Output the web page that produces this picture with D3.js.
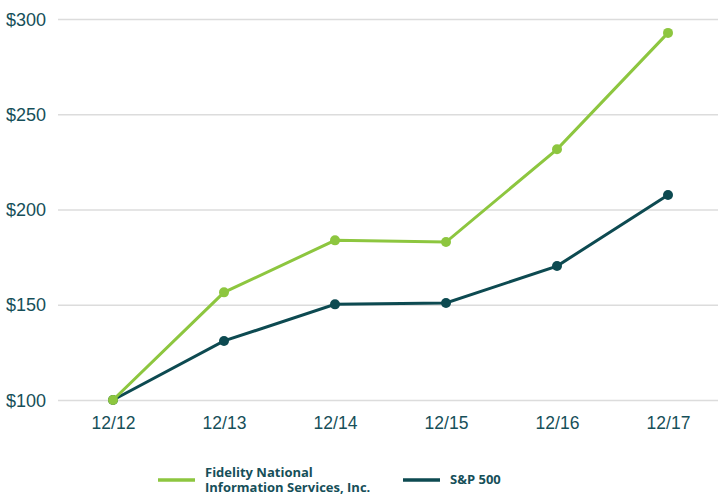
<!DOCTYPE html>
<html>
<head>
<meta charset="utf-8">
<script src="https://cdn.jsdelivr.net/npm/d3@7"></script>
<style>
  body { margin: 0; background: #fff; }
  svg { display: block; }
</style>
</head>
<body>
<svg></svg>
<script>
var width = 726,
    height = 499

// data
var years = ["12/12", "12/13", "12/14", "12/15", "12/16", "12/17"]
var fis = [100, 156.5, 183.8, 182.9, 231.6, 292.7]
var sp500 = [100, 131, 150.2, 150.9, 170.3, 207.6]
var yTicks = [100, 150, 200, 250, 300]
var seriesNames = ["Fidelity National|Information Services, Inc.", "S&P 500"]

var green = "#8dc63f",
    teal = "#0d4a51",
    textColor = "#164f59"

var svg = d3.select("svg").attr("width", width).attr("height", height);

var x = d3.scalePoint()
  .domain(years)
  .range([113, 668])

var y = d3.scaleLinear()
  .domain([100, 300])
  .range([400, 19])

// gridlines
svg.append("g")
  .attr("transform", "translate(58,0)")
  .call(d3.axisLeft(y).tickValues(yTicks).tickSize(-660).tickFormat(""))
  .call(function(g) {
    g.select(".domain").remove()
    g.selectAll(".tick line").attr("stroke", "#dcdcdc").attr("stroke-width", 1.5)
  })

// y labels
svg.append("g")
  .attr("transform", "translate(46,0)")
  .call(d3.axisLeft(y).tickValues(yTicks).tickSize(0).tickPadding(0).tickFormat(function(d) { return "$" + d }))
  .call(function(g) {
    g.select(".domain").remove()
    g.selectAll("text")
      .attr("text-anchor", "end")
      .attr("dy", "0.34em")
      .attr("fill", textColor)
      .style("font-family", "Liberation Sans, Arial, sans-serif")
      .style("font-size", "18px")
  })

// x labels
svg.append("g")
  .attr("transform", "translate(0,417)")
  .call(d3.axisBottom(x).tickSize(0).tickPadding(0))
  .call(function(g) {
    g.select(".domain").remove()
    g.selectAll("text")
      .attr("dy", "0.71em")
      .attr("fill", textColor)
      .style("font-family", "Liberation Sans, Arial, sans-serif")
      .style("font-size", "17.5px")
  })

var line = d3.line()
  .x(function(d, i) { return x(years[i]) })
  .y(function(d) { return y(d) })

var series = [
  {values: sp500, color: teal},
  {values: fis, color: green}
]

series.forEach(function(s) {
  svg.append("path")
    .datum(s.values)
    .attr("d", line)
    .attr("fill", "none")
    .attr("stroke", s.color)
    .attr("stroke-width", 3)

  svg.selectAll(null)
    .data(s.values)
    .enter().append("circle")
    .attr("cx", function(d, i) { return x(years[i]) })
    .attr("cy", function(d) { return y(d) })
    .attr("r", 5)
    .attr("fill", s.color)
})

// legend
var legend = [
  {name: seriesNames[0], color: green, x: 158},
  {name: seriesNames[1], color: teal, x: 403}
]

legend.forEach(function(l) {
  svg.append("line")
    .attr("x1", l.x).attr("x2", l.x + 37)
    .attr("y1", 480).attr("y2", 480)
    .attr("stroke", l.color)
    .attr("stroke-width", 3.5)

  var parts = l.name.split("|")
  var t = svg.append("text")
    .attr("x", l.x + 47)
    .attr("y", parts.length > 1 ? 476.5 : 484)
    .attr("fill", textColor)
    .style("font-family", "Open Sans, sans-serif")
    .style("font-weight", "bold")
    .style("font-size", "13px")
  parts.forEach(function(p, i) {
    t.append("tspan")
      .attr("x", l.x + 47)
      .attr("dy", i == 0 ? 0 : 15)
      .text(p)
  })
})
</script>
</body>
</html>
